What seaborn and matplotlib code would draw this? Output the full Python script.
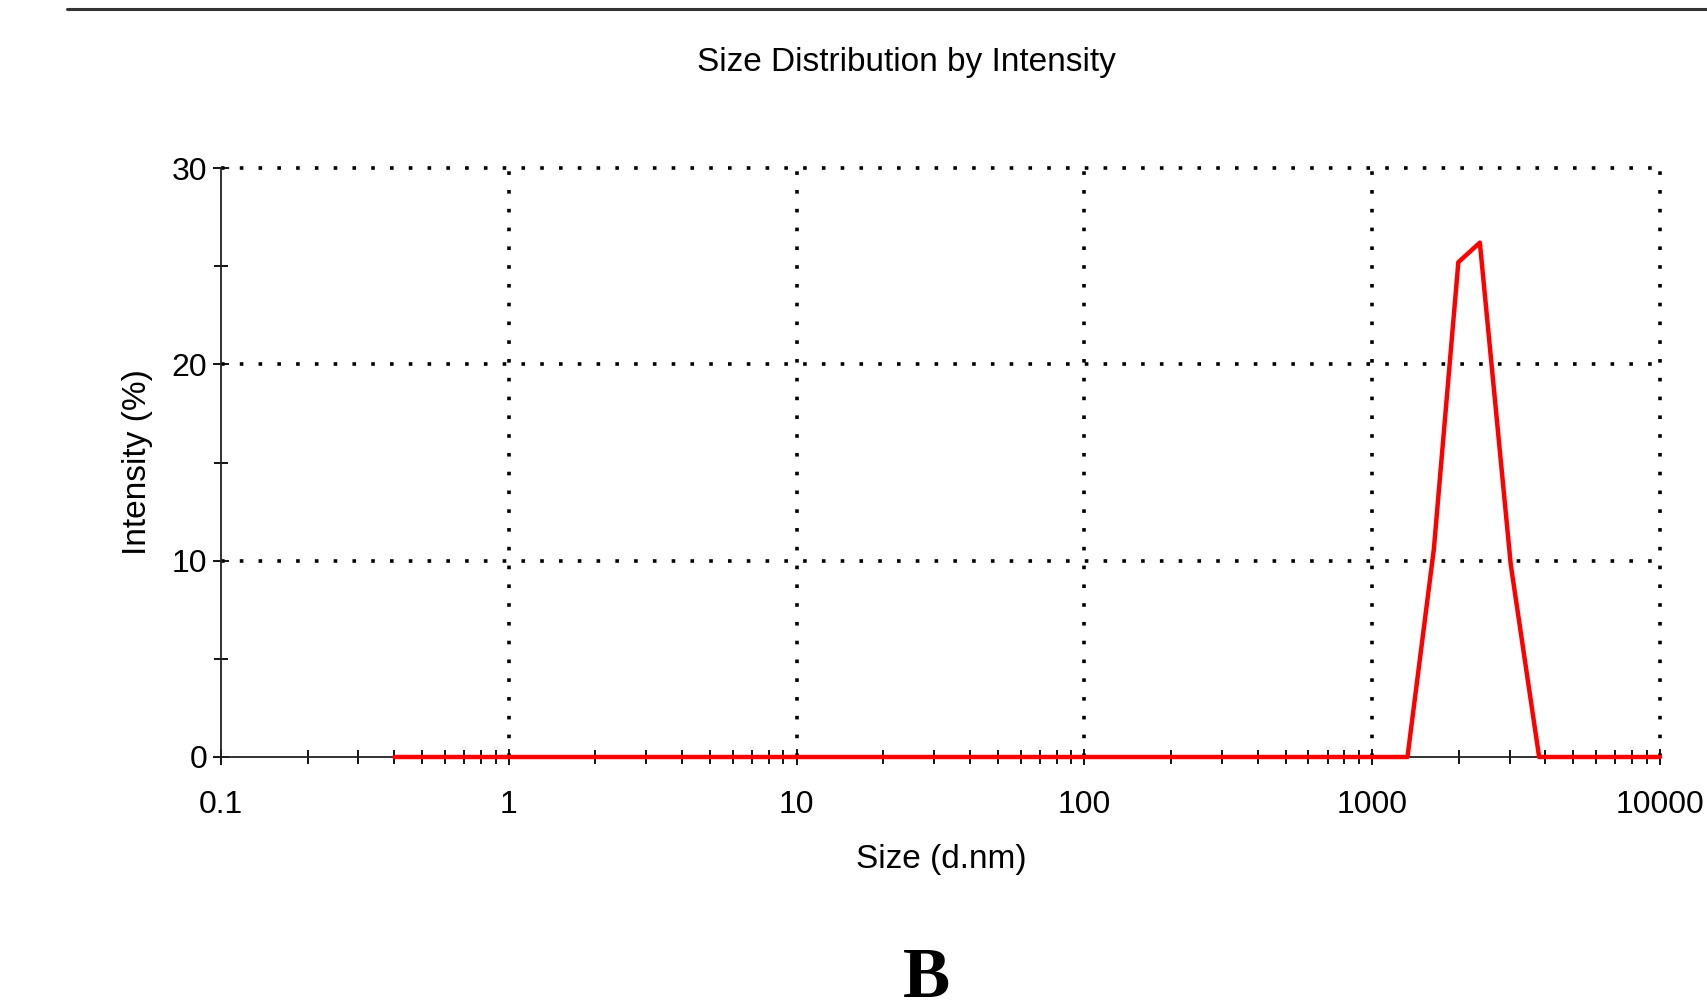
import matplotlib
matplotlib.use("Agg")
import matplotlib.pyplot as plt
import seaborn as sns
from matplotlib import font_manager
from matplotlib.lines import Line2D
from matplotlib.ticker import LogLocator, NullFormatter, MultipleLocator

# Size distribution (d.nm vs % intensity)
size_nm = [0.4, 1326, 1638, 1992, 2366, 3030, 3802, 10000]
intensity = [0.0, 0.0, 10.6, 25.2, 26.2, 9.8, 0.0, 0.0]

x_ticks = [0.1, 1, 10, 100, 1000, 10000]
x_tick_labels = ["0.1", "1", "10", "100", "1000", "10000"]
y_ticks = [0, 10, 20, 30]

sns.set_style("white")

# narrow sans like the instrument software, if it is there
names = {f.name for f in font_manager.fontManager.ttflist}
narrow = "Liberation Sans Narrow" in names
sans = "Liberation Sans Narrow" if narrow else "Liberation Sans"
plt.rcParams["font.family"] = [sans, "DejaVu Sans"]
plt.rcParams["text.color"] = "black"
plt.rcParams["axes.labelcolor"] = "black"
tick_fs = 27 if narrow else 23
label_fs = 28 if narrow else 24

W, H = 1707, 1005
fig = plt.figure(figsize=(W / 100, H / 100), dpi=100)
ax = fig.add_axes([221 / W, 1 - 757 / H, 1439 / W, 589 / H])

# Line
ax.set_xscale("log")
sns.lineplot(x=size_nm, y=intensity, ax=ax, color="#ff0000",
             linewidth=3.2, clip_on=False, zorder=5)

ax.set_xlim(0.1, 10000)
ax.set_ylim(0, 30)
ax.set_xticks(x_ticks)
ax.set_xticklabels(x_tick_labels)
ax.xaxis.set_minor_locator(LogLocator(base=10, subs=range(2, 10)))
ax.xaxis.set_minor_formatter(NullFormatter())
ax.set_yticks(y_ticks)
ax.yaxis.set_minor_locator(MultipleLocator(5))

# dotted grid, not on the axes themselves
dots = dict(color="black", linestyle=(0, (1, 4.2)), linewidth=2.6, zorder=1, clip_on=False)
for yv in y_ticks[1:]:
    ax.axhline(yv, **dots)
for xv in x_ticks[1:]:
    ax.axvline(xv, **dots)

sns.despine(ax=ax)
for side in ["left", "bottom"]:
    ax.spines[side].set_color("#222222")
    ax.spines[side].set_linewidth(1.3)
    ax.spines[side].set_zorder(3)

ax.tick_params(axis="both", which="both", direction="inout", color="black",
               bottom=True, left=True, width=1.3,
               labelsize=tick_fs, labelcolor="black")
ax.tick_params(axis="both", which="major", length=11)
ax.tick_params(axis="both", which="minor", length=10)
ax.tick_params(axis="x", which="major", pad=18.5)
ax.tick_params(axis="y", which="major", pad=4.5)

ax.set_xlabel("Size (d.nm)", fontsize=label_fs)
ax.set_ylabel("Intensity (%)", fontsize=label_fs)
ax.xaxis.set_label_coords(0.5008, -0.1477)
ax.yaxis.set_label_coords(-0.047, 0.5008)

# Title and page decorations
fig.text(906 / W, 1 - 71 / H, "Size Distribution by Intensity",
         ha="center", va="baseline", fontsize=label_fs)
fig.add_artist(Line2D([67 / W, 1], [1 - 9 / H, 1 - 9 / H], color="#333333", lw=2.2))
fig.text(926 / W, 1 - 997 / H, "B", family=["Liberation Serif", "DejaVu Serif"],
         weight="bold", fontsize=51, ha="center", va="baseline")

fig.savefig("out.png", dpi=100)
